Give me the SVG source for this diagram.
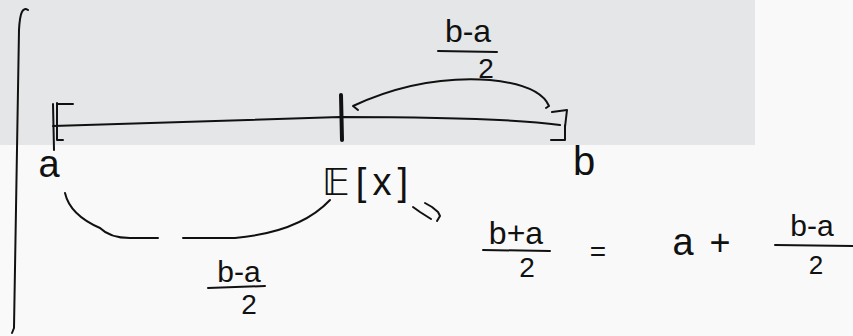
<svg xmlns="http://www.w3.org/2000/svg" width="853" height="336" viewBox="0 0 853 336">
<style>
.s{fill:none;stroke:#111;stroke-width:2;stroke-linecap:round;stroke-linejoin:round}
.t{font-family:"Liberation Sans","DejaVu Sans",sans-serif;fill:#111}
</style>
<rect width="853" height="336" fill="#f9f9f9"/>
<rect x="0" y="0" width="755" height="145" fill="#e5e6e8"/>
<g id="integral"><path class="s" d="M28 10 C23 7 20 11 19 30 L14 328 L12 333"/></g>
<g id="number-line">
<path class="s" d="M53 126 L340 117 Q500 117 560 125"/>
<path class="s" d="M53 104 L54 150 M57 103 L57 140 L63 140 M57 104 L73 104"/>
<path class="s" style="stroke-width:4" d="M341 95 L342 140"/>
<path class="s" d="M552 112 L567 110 L565 127 M565 125 L565 140 L551 140"/>
</g>
<g id="connectors">
<path class="s" d="M358 110 L353 106 Q420 75 490 80 Q540 85 549 106 L546 108"/>
<path class="s" d="M65 193 Q70 215 100 228 Q110 238 130 238 L158 238 M183 238 L235 238 Q300 232 330 200"/>
<path class="s" d="M413 207 L420 212 L431 219 M425 203 L432 207 L438 212 L440 216 L437 221"/>
</g>
<g id="label-top">
<text class="t" x="468" y="42" font-size="32" text-anchor="middle">b-a</text>
<path class="s" d="M438 51 L497 52"/>
<text class="t" x="486" y="78" font-size="28" text-anchor="middle">2</text>
</g>
<g id="label-a"><text class="t" x="49" y="177" font-size="38" text-anchor="middle">a</text></g>
<g id="label-b"><text class="t" x="584" y="175" font-size="40" text-anchor="middle">b</text></g>
<g id="label-ex"><text class="t" x="322" y="195" font-size="38" textLength="86" lengthAdjust="spacing">𝔼[x]</text></g>
<g id="label-bottom">
<text class="t" x="239" y="282" font-size="30" text-anchor="middle">b-a</text>
<path class="s" d="M208 288 L265 286"/>
<text class="t" x="249" y="314" font-size="28" text-anchor="middle">2</text>
</g>
<g id="equation">
<text class="t" x="516" y="244" font-size="32" text-anchor="middle">b+a</text>
<path class="s" d="M483 250 L550 251"/>
<text class="t" x="527" y="277" font-size="28" text-anchor="middle">2</text>
<text class="t" x="598" y="261" font-size="28" text-anchor="middle">=</text>
<text class="t" x="683" y="255" font-size="38" text-anchor="middle">a</text>
<text class="t" x="720" y="255" font-size="36" text-anchor="middle">+</text>
<text class="t" x="812" y="236" font-size="30" text-anchor="middle">b-a</text>
<path class="s" d="M775 245 L853 246"/>
<text class="t" x="816" y="274" font-size="26" text-anchor="middle">2</text>
</g>
</svg>
